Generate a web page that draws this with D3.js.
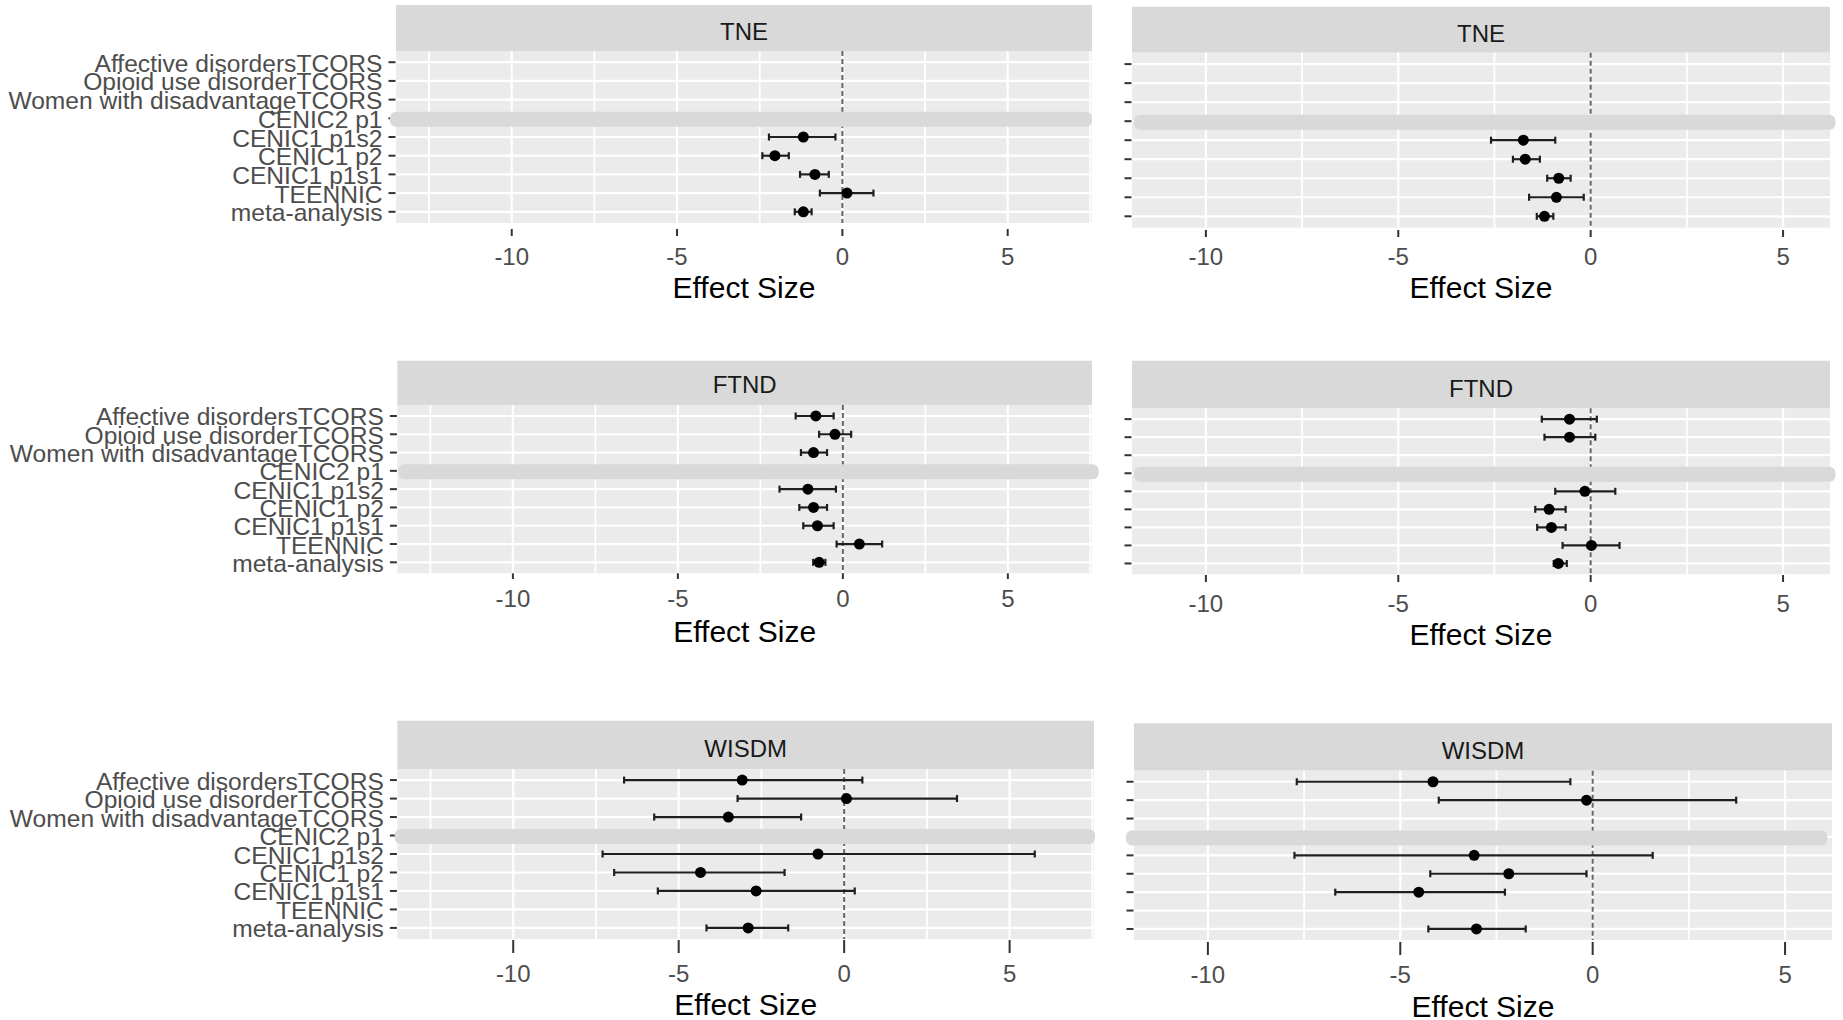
<!DOCTYPE html>
<html>
<head>
<meta charset="utf-8">
<script src="https://cdn.jsdelivr.net/npm/d3@7"></script>
<style>
  body { margin: 0; background: #ffffff; }
  svg { display: block; }
  text { font-family: "Liberation Sans", Arial, sans-serif; }
</style>
</head>
<body>
<svg id="chart" width="1843" height="1020"></svg>
<script>
// Study rows, top to bottom
const categories = [
  "Affective disordersTCORS",
  "Opioid use disorderTCORS",
  "Women with disadvantageTCORS",
  "CENIC2 p1",
  "CENIC1 p1s2",
  "CENIC1 p2",
  "CENIC1 p1s1",
  "TEENNIC",
  "meta-analysis"
];
const hiddenRow = "CENIC2 p1";

const majorTicks = [-10, -5, 0, 5];
const minorTicks = [-12.5, -7.5, -2.5, 2.5, 7.5];
const domainLeft = [-13.5, 7.55];
const domainRight = [-11.92, 6.22];
const axisTitle = "Effect Size";

// TNE, left column
const tneLeftEst = [null, null, null, null, -1.18, -2.04, -0.83, 0.14, -1.18];
const tneLeftLo  = [null, null, null, null, -2.22, -2.42, -1.28, -0.68, -1.44];
const tneLeftHi  = [null, null, null, null, -0.21, -1.62, -0.41, 0.94, -0.93];
// TNE, right column
const tneRightEst = [null, null, null, null, -1.75, -1.70, -0.83, -0.89, -1.20];
const tneRightLo  = [null, null, null, null, -2.59, -2.02, -1.13, -1.60, -1.40];
const tneRightHi  = [null, null, null, null, -0.92, -1.32, -0.52, -0.18, -0.97];
// FTND, left column
const ftndLeftEst = [-0.82, -0.24, -0.89, null, -1.06, -0.89, -0.77, 0.50, -0.72];
const ftndLeftLo  = [-1.43, -0.72, -1.27, null, -1.92, -1.32, -1.20, -0.19, -0.90];
const ftndLeftHi  = [-0.28, 0.25, -0.48, null, -0.21, -0.48, -0.28, 1.19, -0.53];
// FTND, right column
const ftndRightEst = [-0.55, -0.55, null, null, -0.15, -1.08, -1.02, 0.02, -0.84];
const ftndRightLo  = [-1.27, -1.20, null, null, -0.92, -1.44, -1.39, -0.73, -0.96];
const ftndRightHi  = [0.16, 0.12, null, null, 0.64, -0.65, -0.65, 0.75, -0.62];
// WISDM, left column
const wisdmLeftEst = [-3.08, 0.07, -3.50, null, -0.79, -4.34, -2.66, null, -2.90];
const wisdmLeftLo  = [-6.65, -3.22, -5.74, null, -7.30, -6.95, -5.63, null, -4.16];
const wisdmLeftHi  = [0.55, 3.41, -1.30, null, 5.76, -1.80, 0.32, null, -1.69];
// WISDM, right column
const wisdmRightEst = [-4.15, -0.16, null, null, -3.08, -2.18, -4.52, null, -3.02];
const wisdmRightLo  = [-7.69, -4.00, null, null, -7.75, -4.22, -6.69, null, -4.27];
const wisdmRightHi  = [-0.58, 3.73, null, null, 1.56, -0.16, -2.28, null, -1.74];

const facets = [
  { name: "TNE",   est: tneLeftEst,    lo: tneLeftLo,    hi: tneLeftHi,    domain: domainLeft },
  { name: "TNE",   est: tneRightEst,   lo: tneRightLo,   hi: tneRightHi,   domain: domainRight },
  { name: "FTND",  est: ftndLeftEst,   lo: ftndLeftLo,   hi: ftndLeftHi,   domain: domainLeft },
  { name: "FTND",  est: ftndRightEst,  lo: ftndRightLo,  hi: ftndRightHi,  domain: domainRight },
  { name: "WISDM", est: wisdmLeftEst,  lo: wisdmLeftLo,  hi: wisdmLeftHi,  domain: domainLeft },
  { name: "WISDM", est: wisdmRightEst, lo: wisdmRightLo, hi: wisdmRightHi, domain: domainRight }
];

// Panel boxes of the six pasted plots
const layout = [
  { x0: 396,   x1: 1092, stripTop: 5,     y0: 51,    y1: 223,   tickTop: 229,   tickBot: 236, tickLabelY: 265,   titleY: 298,    stripTextY: 39.5,  labels: true,  barX: [390, 1092] },
  { x0: 1132,  x1: 1830, stripTop: 6.7,   y0: 52.7,  y1: 227.7, tickTop: 230,   tickBot: 237, tickLabelY: 265,   titleY: 298,    stripTextY: 41.7,  labels: false, barX: [1134, 1835.5] },
  { x0: 397.4, x1: 1092, stripTop: 360.7, y0: 405,   y1: 573.3, tickTop: 573.3, tickBot: 579, tickLabelY: 606.7, titleY: 641.7,  stripTextY: 393.3, labels: true,  barX: [398.4, 1098.7] },
  { x0: 1132,  x1: 1830, stripTop: 360.7, y0: 408.3, y1: 574.3, tickTop: 575,   tickBot: 582, tickLabelY: 611.7, titleY: 645,    stripTextY: 397.3, labels: false, barX: [1134, 1835.5] },
  { x0: 397.4, x1: 1094, stripTop: 720.7, y0: 769,   y1: 939,   tickTop: 940,   tickBot: 953, tickLabelY: 981.7, titleY: 1015,   stripTextY: 757.3, labels: true,  barX: [394.7, 1095] },
  { x0: 1134,  x1: 1832, stripTop: 723.3, y0: 770.7, y1: 940,   tickTop: 942,   tickBot: 955, tickLabelY: 983.3, titleY: 1016.7, stripTextY: 759.3, labels: false, barX: [1126, 1827.4] }
];

const svg = d3.select("#chart");

facets.forEach((f, i) => {
  const L = layout[i];
  const g = svg.append("g");

  const x = d3.scaleLinear().domain(f.domain).range([L.x0, L.x1]);
  const y = d3.scalePoint().domain(categories).range([L.y0, L.y1]).padding(0.6);

  // strip
  g.append("rect")
    .attr("x", L.x0).attr("y", L.stripTop)
    .attr("width", L.x1 - L.x0).attr("height", L.y0 - L.stripTop)
    .attr("fill", "#d9d9d9");
  g.append("text")
    .attr("x", (L.x0 + L.x1) / 2).attr("y", L.stripTextY)
    .attr("text-anchor", "middle")
    .attr("font-size", 24).attr("fill", "#1a1a1a")
    .text(f.name);

  // panel background
  g.append("rect")
    .attr("x", L.x0).attr("y", L.y0)
    .attr("width", L.x1 - L.x0).attr("height", L.y1 - L.y0)
    .attr("fill", "#ebebeb");

  const [d0, d1] = f.domain;
  // minor vertical grid
  g.selectAll(".minor").data(minorTicks.filter(v => v > d0 && v < d1)).join("line")
    .attr("x1", d => x(d)).attr("x2", d => x(d))
    .attr("y1", L.y0).attr("y2", L.y1)
    .attr("stroke", "#ffffff").attr("stroke-width", 1.8);
  // major vertical grid
  g.selectAll(".major").data(majorTicks).join("line")
    .attr("x1", d => x(d)).attr("x2", d => x(d))
    .attr("y1", L.y0).attr("y2", L.y1)
    .attr("stroke", "#ffffff").attr("stroke-width", 2.2);
  // horizontal grid at each study row
  g.selectAll(".hgrid").data(categories).join("line")
    .attr("x1", L.x0).attr("x2", L.x1)
    .attr("y1", d => y(d)).attr("y2", d => y(d))
    .attr("stroke", "#ffffff").attr("stroke-width", 2.2);

  // reference line at zero
  g.append("line")
    .attr("x1", x(0)).attr("x2", x(0))
    .attr("y1", L.y0).attr("y2", L.y1)
    .attr("stroke", "#666666").attr("stroke-width", 2)
    .attr("stroke-dasharray", "5,3");

  // y axis ticks and labels
  g.selectAll(".ytick").data(categories).join("line")
    .attr("x1", L.x0 - 7.5).attr("x2", L.x0 - 0.5)
    .attr("y1", d => y(d)).attr("y2", d => y(d))
    .attr("stroke", "#333333").attr("stroke-width", 2);
  if (L.labels) {
    g.selectAll(".ylab").data(categories).join("text")
      .attr("x", L.x0 - 13.5).attr("y", d => y(d) + 9.5)
      .attr("text-anchor", "end")
      .attr("font-size", 24.6).attr("fill", "#4d4d4d")
      .text(d => d);
  }

  // x axis ticks and labels
  g.selectAll(".xtick").data(majorTicks).join("line")
    .attr("x1", d => x(d)).attr("x2", d => x(d))
    .attr("y1", L.tickTop).attr("y2", L.tickBot)
    .attr("stroke", "#333333").attr("stroke-width", 2);
  g.selectAll(".xlab").data(majorTicks).join("text")
    .attr("x", d => x(d)).attr("y", L.tickLabelY)
    .attr("text-anchor", "middle")
    .attr("font-size", 24).attr("fill", "#4d4d4d")
    .text(d => d3.format("d")(d).replace("−", "-"));
  g.append("text")
    .attr("x", (L.x0 + L.x1) / 2).attr("y", L.titleY)
    .attr("text-anchor", "middle")
    .attr("font-size", 30).attr("fill", "#000000")
    .text(axisTitle);

  // estimates with confidence intervals
  const rows = categories.map((c, k) => ({ cat: c, est: f.est[k], lo: f.lo[k], hi: f.hi[k] }))
    .filter(r => r.est !== null);
  const cap = 3.5;
  const eb = g.append("g").attr("stroke", "#1f1f1f").attr("stroke-width", 2.2).attr("fill", "none");
  eb.selectAll(".bar").data(rows).join("line")
    .attr("x1", d => x(d.lo)).attr("x2", d => x(d.hi))
    .attr("y1", d => y(d.cat)).attr("y2", d => y(d.cat));
  eb.selectAll(".capL").data(rows).join("line")
    .attr("x1", d => x(d.lo)).attr("x2", d => x(d.lo))
    .attr("y1", d => y(d.cat) - cap).attr("y2", d => y(d.cat) + cap);
  eb.selectAll(".capR").data(rows).join("line")
    .attr("x1", d => x(d.hi)).attr("x2", d => x(d.hi))
    .attr("y1", d => y(d.cat) - cap).attr("y2", d => y(d.cat) + cap);
  g.selectAll(".pt").data(rows).join("circle")
    .attr("cx", d => x(d.est)).attr("cy", d => y(d.cat))
    .attr("r", 5.5).attr("fill", "#000000");

  // masking band over the excluded study row
  g.append("rect")
    .attr("x", L.barX[0]).attr("y", y(hiddenRow) + 1 - 7.5)
    .attr("width", L.barX[1] - L.barX[0]).attr("height", 15)
    .attr("rx", 6).attr("ry", 6)
    .attr("fill", "#d9d9d9");
});
</script>
</body>
</html>
